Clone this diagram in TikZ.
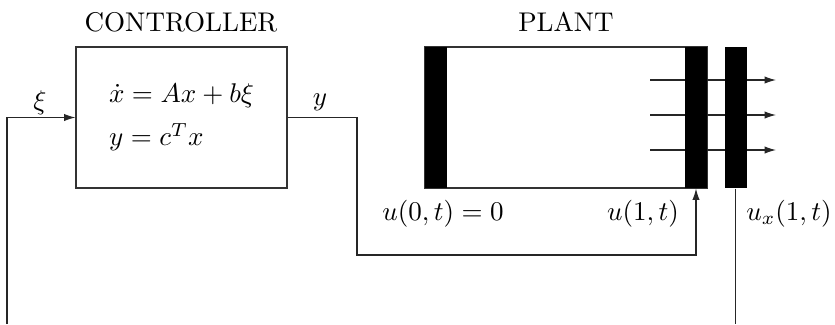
\documentclass[tikz,border=0pt]{standalone}
\usepackage{amsmath}
\usetikzlibrary{arrows.meta, positioning, calc}
\tikzset{
  blockbox/.style={rectangle, draw=black!80, thin, fill=white, inner sep=0pt},
  barbox/.style={rectangle, draw=none, fill=black, inner sep=0pt,
    minimum width=0.286cm, minimum height=1.833cm},
  sigline/.style={thin, draw=black!85},
  sigarrow/.style={sigline, -{Latex[length=4.2pt, width=2.7pt]}},
  tag/.style={inner sep=0pt, font=\normalsize},
}

\begin{document}
\begin{tikzpicture}[x=0.013cm, y=-0.013cm]
\useasboundingbox (0,0) rectangle (835,324);

%% TITLES
\node[tag] (ctrl_title)  at (181, 22) {CONTROLLER};
\node[tag] (plant_title) at (566, 22) {PLANT};

%% CONTROLLER
\node[blockbox, minimum width=2.743cm, minimum height=1.833cm, align=left]
  (ctrl) at (181.5, 117.5)
  {$\dot{x} = Ax + b\xi$\\[4pt]
   $y = c^T x$};

%% PLANT
\node[blockbox, minimum width=3.666cm, minimum height=1.833cm] (plant) at (566, 117.5) {};

%% flux arrows leaving the right end
\foreach \i/\yy in {1/80, 2/115, 3/150} {
  \coordinate (fs\i) at (650, \yy);
  \coordinate (fe\i) at (776, \yy);
  \draw[sigarrow] (fs\i) -- (fe\i);
}

\node[barbox] (lbar) at (436, 117.5) {};
\node[barbox] (rbar) at (696, 117.5) {};
\node[barbox] (xbar) at (735.5, 117.5) {};

%% LABELS
\node[tag] (xi_lbl)  at (40, 103)   {$\xi$};
\node[tag] (y_lbl)   at (320, 102)  {$y$};
\node[tag] (u0_lbl)  at (443, 214)  {$u(0,t) = 0$};
\node[tag] (u1_lbl)  at (643, 214)  {$u(1,t)$};
\node[tag] (ux_lbl)  at (789, 214)  {$u_x(1,t)$};

%% CONNECTORS
\coordinate (fb_bot) at (7, 324);
\coordinate (y_bend) at (357, 255);
\coordinate (ux_bot) at (735.5, 324);

\draw[sigarrow] (fb_bot) |- (ctrl.west);
\draw[sigarrow] (ctrl.east) -| (y_bend) -| (rbar.south);
\draw[sigline]  (xbar.south) -- (ux_bot);

\end{tikzpicture}
\end{document}
